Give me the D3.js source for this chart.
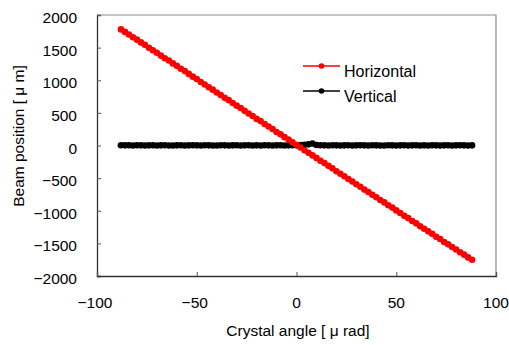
<!DOCTYPE html>
<html>
<head>
<meta charset="utf-8">
<script src="https://cdn.jsdelivr.net/npm/d3@7"></script>
<style>
  html, body { margin: 0; padding: 0; background: #fff; }
  svg { display: block; }
  text { font-family: "Liberation Sans", Arial, sans-serif; fill: #000; }
</style>
</head>
<body>
<svg id="chart" width="509" height="345"></svg>
<script>
// Crystal angle scan [µrad], step 2
const angles = [-88,-86,-84,-82,-80,-78,-76,-74,-72,-70,-68,-66,-64,-62,-60,-58,-56,-54,-52,-50,
  -48,-46,-44,-42,-40,-38,-36,-34,-32,-30,-28,-26,-24,-22,-20,-18,-16,-14,-12,-10,-8,-6,-4,-2,0,
  2,4,6,8,10,12,14,16,18,20,22,24,26,28,30,32,34,36,38,40,42,44,46,48,50,52,54,56,58,60,62,64,66,
  68,70,72,74,76,78,80,82,84,86,88];

// Horizontal beam position [µm]
const horizontal = [1779,1741,1702,1660,1622,1580,1543,1498,1460,1421,1378,1338,1302,1258,1221,1176,
  1140,1097,1055,1020,973,936,893,856,812,775,730,696,652,611,574,531,490,452,408,374,330,291,252,208,
  171,128,92,48,12,-30,-72,-110,-152,-190,-233,-270,-312,-350,-394,-432,-472,-514,-551,-594,-632,-676,
  -712,-755,-793,-836,-872,-916,-952,-995,-1034,-1076,-1113,-1156,-1193,-1237,-1275,-1316,-1353,-1398,
  -1434,-1478,-1515,-1556,-1594,-1636,-1673,-1715,-1752];

// Vertical beam position [µm]
const vertical = [4,2,3,1,3,2,0,2,4,1,2,3,1,0,2,3,1,2,4,2,1,3,2,0,1,3,2,1,2,4,1,2,3,0,2,1,3,2,1,2,
  3,1,2,4,2,6,10,18,30,8,3,2,1,3,2,0,2,3,1,2,4,2,1,3,2,0,1,3,2,1,2,4,1,2,3,0,2,1,3,2,1,2,3,1,2,4,2,1,2];

const xTicks = [-100, -50, 0, 50, 100];
const yTicks = [-2000, -1500, -1000, -500, 0, 500, 1000, 1500, 2000];

const seriesNames = ["Horizontal", "Vertical"];
const seriesColors = ["#ff0000", "#000000"];

const margin = { left: 97, top: 15, right: 13, bottom: 69 };
const W = 509, H = 345;
const svg = d3.select("#chart");

const x = d3.scaleLinear().domain([-100, 100]).range([margin.left, W - margin.right]);
const y = d3.scaleLinear().domain([-2000, 2000]).range([H - margin.bottom, margin.top]);

const fmt = d => d < 0 ? "\u2212" + Math.abs(d) : String(d);

// Frame: grey top/right edges
svg.append("path")
  .attr("d", `M${x(-100)},${y(2000)}H${x(100)}V${y(-2000)}`)
  .attr("fill", "none").attr("stroke", "#8c8c8c").attr("stroke-width", 1.2);

// Y axis with inward ticks
const yAxis = svg.append("g").attr("transform", `translate(${x(-100)},0)`)
  .call(d3.axisRight(y).tickValues(yTicks).tickSize(4).tickFormat(""));
yAxis.select(".domain").attr("stroke", "#333").attr("stroke-width", 1.3);
yAxis.selectAll(".tick line").attr("stroke", "#555");
svg.append("g").selectAll("text").data(yTicks).join("text")
  .attr("x", 77).attr("y", d => y(d) + 4)
  .attr("text-anchor", "end").attr("dominant-baseline", "middle")
  .style("font-size", "15.5px").text(fmt);

// X axis with inward ticks
const xAxis = svg.append("g").attr("transform", `translate(0,${y(-2000)})`)
  .call(d3.axisTop(x).tickValues(xTicks).tickSize(4).tickFormat(""));
xAxis.select(".domain").attr("stroke", "#333").attr("stroke-width", 1.3);
xAxis.selectAll(".tick line").attr("stroke", "#555");
svg.append("g").selectAll("text").data(xTicks).join("text")
  .attr("x", d => x(d) - (d < 0 ? 2 : 0)).attr("y", 308)
  .attr("text-anchor", "middle")
  .style("font-size", "15.5px").text(fmt);

// Axis titles
svg.append("text").attr("x", 298).attr("y", 336).attr("text-anchor", "middle")
  .style("font-size", "15.5px").text("Crystal angle [ \u03bc rad]");
svg.append("text").attr("transform", "translate(24,136) rotate(-90)")
  .attr("text-anchor", "middle").style("font-size", "15.5px")
  .text("Beam position [ \u03bc m]");

// Series
const seriesData = [horizontal, vertical];
const line = d3.line().x((d, i) => x(angles[i])).y(d => y(d));
[1, 0].forEach(k => {
  const g = svg.append("g");
  g.append("path").datum(seriesData[k]).attr("d", line)
    .attr("fill", "none").attr("stroke", seriesColors[k]).attr("stroke-width", 2);
  g.selectAll("circle").data(seriesData[k]).join("circle")
    .attr("cx", (d, i) => x(angles[i])).attr("cy", d => y(d)).attr("r", 3.3)
    .attr("fill", seriesColors[k]);
});

// Legend
const legend = svg.append("g");
seriesNames.forEach((name, k) => {
  const ly = 66 + k * 25;
  legend.append("line").attr("x1", 303).attr("x2", 340).attr("y1", ly).attr("y2", ly)
    .attr("stroke", seriesColors[k]).attr("stroke-width", 1.5);
  legend.append("circle").attr("cx", 321.5).attr("cy", ly).attr("r", 2.8).attr("fill", seriesColors[k]);
  legend.append("text").attr("x", 344).attr("y", ly + 11)
    .style("font-size", "16px").text(name);
});
</script>
</body>
</html>
